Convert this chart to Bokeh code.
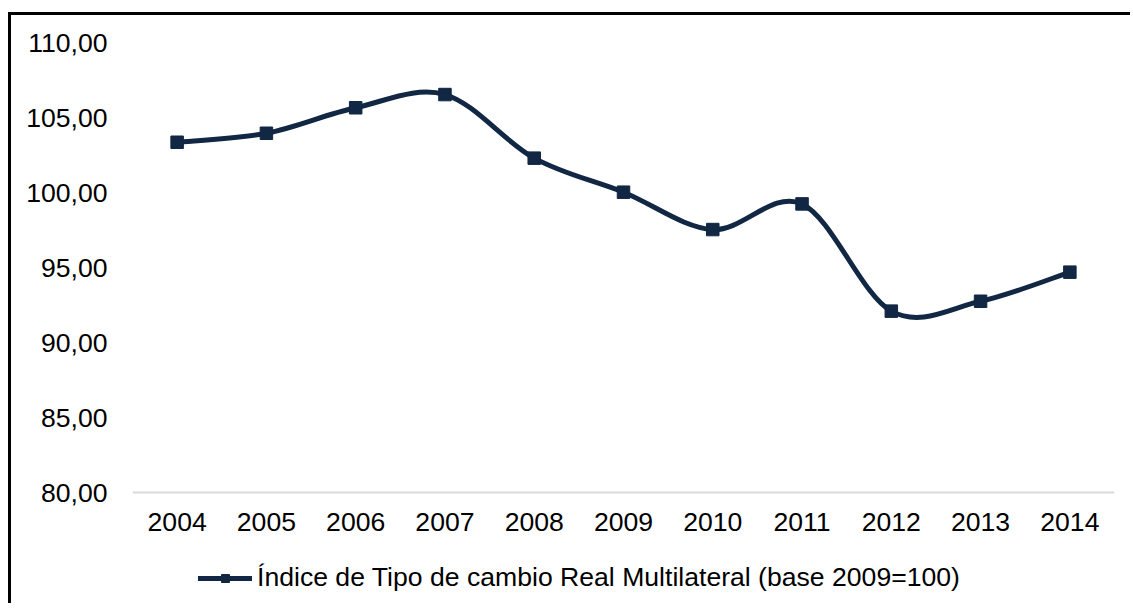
from bokeh.plotting import figure
from bokeh.models import Range1d, FixedTicker, Legend, LegendItem, ColumnDataSource
from bokeh.embed import file_html
from bokeh.resources import INLINE

# ---- data ----
years = [2004, 2005, 2006, 2007, 2008, 2009, 2010, 2011, 2012, 2013, 2014]
year_labels = ["2004", "2005", "2006", "2007", "2008", "2009", "2010", "2011", "2012", "2013", "2014"]
values = [103.35, 103.95, 105.65, 106.53, 102.29, 100.02, 97.53, 99.24, 92.09, 92.75, 94.69]
y_ticks = [80, 85, 90, 95, 100, 105, 110]
y_tick_labels = ["80,00", "85,00", "90,00", "95,00", "100,00", "105,00", "110,00"]
series_name = "Índice de Tipo de cambio Real Multilateral (base 2009=100)"

NAVY = "#112743"
FONT = "Liberation Sans"
FS = "26.6px"

# smooth curve segments (Catmull-Rom style control points, like spreadsheet smoothing)
n = len(years)
def pt(i):
    i = max(0, min(n - 1, i))
    return years[i], values[i]

x0, y0, x1, y1, cx0, cy0, cx1, cy1 = [], [], [], [], [], [], [], []
for i in range(n - 1):
    xa, ya = pt(i)
    xb, yb = pt(i + 1)
    xp, yp = pt(i - 1)
    xn, yn = pt(i + 2)
    x0.append(xa); y0.append(ya); x1.append(xb); y1.append(yb)
    cx0.append(xa + (xb - xp) / 6.0); cy0.append(ya + (yb - yp) / 6.0)
    cx1.append(xb - (xn - xa) / 6.0); cy1.append(yb - (yn - ya) / 6.0)

seg = ColumnDataSource(dict(x0=x0, y0=y0, x1=x1, y1=y1, cx0=cx0, cy0=cy0, cx1=cx1, cy1=cy1))
pts = ColumnDataSource(dict(x=years, y=values))

# frame: 110 at top, 15 px per unit, extends below 80 to host the legend
W, H = 1122, 591
TOP = 27
Y_LOW = 72.4
p = figure(width=W, height=H,
           x_range=Range1d(2003.5, 2014.5), y_range=Range1d(Y_LOW, 110),
           output_backend="svg", toolbar_location=None,
           min_border_left=121, min_border_right=W - 1103, min_border_top=TOP,
           min_border_bottom=H - TOP - 564)

p.styles = {"border-left": "3px solid black", "border-top": "3px solid black"}
p.margin = (12, 0, 0, 8)

p.xgrid.visible = False
p.ygrid.visible = False
p.outline_line_color = None
p.background_fill_color = "white"
p.border_fill_color = "white"

# axes
p.yaxis.ticker = FixedTicker(ticks=y_ticks)
p.yaxis.major_label_overrides = dict(zip(y_ticks, y_tick_labels))
p.yaxis.axis_line_color = None
p.yaxis.major_tick_line_color = None
p.yaxis.minor_tick_line_color = None
p.yaxis.major_tick_out = 0
p.yaxis.major_tick_in = 0
p.yaxis.major_label_standoff = 25
p.yaxis.major_label_text_font = FONT
p.yaxis.major_label_text_font_size = FS
p.yaxis.major_label_text_color = "black"

p.xaxis.fixed_location = 80
p.xaxis.ticker = FixedTicker(ticks=years)
p.xaxis.major_label_overrides = dict(zip(years, year_labels))
p.xaxis.axis_line_color = "#D9D9D9"
p.xaxis.axis_line_width = 2
p.xaxis.major_tick_line_color = None
p.xaxis.minor_tick_line_color = None
p.xaxis.major_tick_out = 0
p.xaxis.major_tick_in = 0
p.xaxis.major_label_standoff = 20
p.xaxis.major_label_text_font = FONT
p.xaxis.major_label_text_font_size = FS
p.xaxis.major_label_text_color = "black"

# series
bez = p.bezier(x0="x0", y0="y0", x1="x1", y1="y1", cx0="cx0", cy0="cy0", cx1="cx1", cy1="cy1",
               source=seg, line_color=NAVY, line_width=5, line_cap="round")
sq = p.scatter(x="x", y="y", source=pts, marker="square", size=12.5,
               fill_color=NAVY, line_color=NAVY)

legend = Legend(items=[LegendItem(label=series_name, renderers=[bez, sq])],
                location=(66, 13), orientation="horizontal",
                glyph_width=54, glyph_height=20, label_standoff=5,
                padding=0, margin=0, spacing=0,
                border_line_color=None, background_fill_alpha=0,
                label_text_font=FONT, label_text_font_size=FS, label_text_color="black")
p.add_layout(legend, "center")

open("out.html", "w").write(file_html(p, INLINE))
